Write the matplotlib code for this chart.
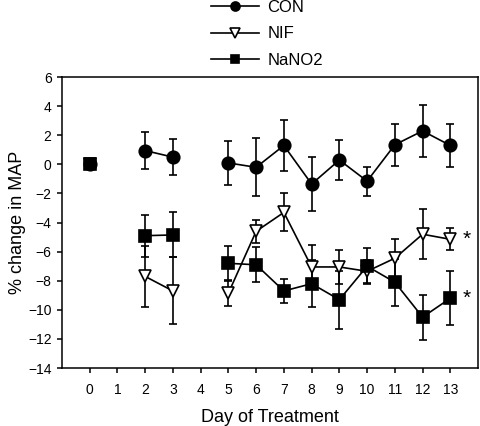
import matplotlib
matplotlib.use("Agg")
import matplotlib.pyplot as plt
import numpy as np

plt.rcParams['font.family'] = ['Liberation Sans', 'DejaVu Sans']

days = [0, 2, 3, 5, 6, 7, 8, 9, 10, 11, 12, 13]
con = [0.0, 0.95, 0.5, 0.1, -0.2, 1.3, -1.35, 0.3, -1.15, 1.35, 2.3, 1.3]
con_err = [0.0, 1.3, 1.25, 1.5, 2.0, 1.75, 1.85, 1.4, 1.0, 1.45, 1.8, 1.45]
nif = [0.0, -7.7, -8.7, -8.85, -4.6, -3.3, -7.05, -7.05, -7.35, -6.45, -4.8, -5.15]
nif_err = [0.0, 2.1, 2.3, 0.9, 0.8, 1.3, 1.5, 1.15, 0.8, 1.3, 1.7, 0.75]
nano2 = [0.0, -4.9, -4.85, -6.8, -6.9, -8.7, -8.2, -9.3, -7.0, -8.1, -10.5, -9.2]
nano2_err = [0.0, 1.45, 1.55, 1.2, 1.2, 0.85, 1.6, 2.0, 1.25, 1.6, 1.55, 1.85]

xticks = list(range(0, 14))
yticks = list(range(-14, 7, 2))

fig = plt.figure(figsize=(4.8, 4.26), dpi=100)
ax = fig.add_axes([0.129, 0.136, 0.867, 0.683])

def seg(x, y, e):
    # line breaks where days are missing (after day 0 and after day 3)
    x = np.array(x); y = np.array(y); e = np.array(e)
    groups = [[0], [1, 2], list(range(3, 12))]
    return [(x[g], y[g], e[g]) for g in groups]

styles = [
    (con, con_err, dict(marker='o', mfc='black', mec='black'), 9, 6.5, 'CON'),
    (nif, nif_err, dict(marker='v', mfc='white', mec='black'), 9, 6.5, 'NIF'),
    (nano2, nano2_err, dict(marker='s', mfc='black', mec='black'), 8.5, 6, 'NaNO2'),
]

handles = []
for vals, errs, st, ms, lms, lab in styles:
    for gx, gy, ge in seg(days, vals, errs):
        ax.errorbar(gx, gy, yerr=ge, color='black', lw=1.2, elinewidth=1.2,
                    capsize=3, capthick=1.2, ms=ms, mew=1.2, **st)
    h, = ax.plot([], [], color='black', lw=1.2, ms=lms, mew=1.2, **st)
    handles.append((h, lab))

ax.text(13.45, nif[-1], '*', fontsize=15, va='center', ha='left')
ax.text(13.45, nano2[-1], '*', fontsize=15, va='center', ha='left')

ax.set_xlim(-1, 14)
ax.set_ylim(-14, 6)
ax.set_xticks(xticks)
ax.set_yticks(yticks)
ax.tick_params(direction='out', length=3.5, width=1.1, labelsize=10)
ax.tick_params(axis='x', pad=7)
ax.tick_params(axis='y', pad=4)
for s in ax.spines.values():
    s.set_linewidth(1.1)
ax.set_xlabel('Day of Treatment', fontsize=13, labelpad=9)
ax.set_ylabel('% change in MAP', fontsize=13, labelpad=1)

fig.legend([h for h, _ in handles], [l for _, l in handles],
           loc='upper center', bbox_to_anchor=(0.556, 1.035), frameon=False,
           fontsize=12, handlelength=2.9, handletextpad=0.5, labelspacing=0.68)

fig.savefig('out.png', dpi=100)
